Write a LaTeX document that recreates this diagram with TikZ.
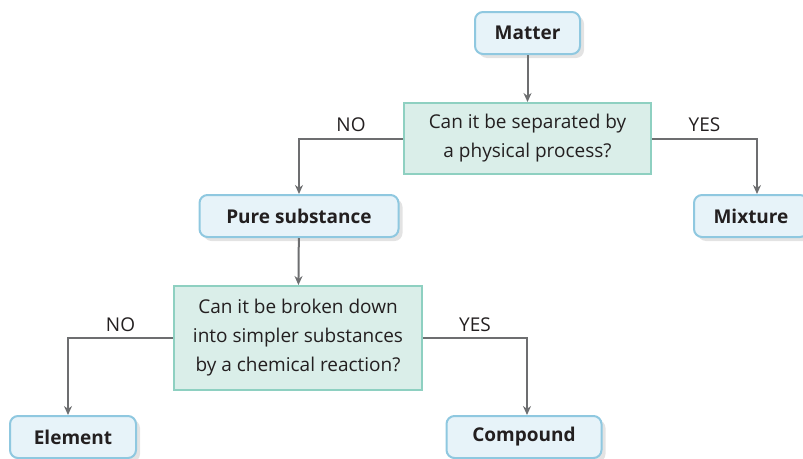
\documentclass[tikz,border=0pt]{standalone}
\usepackage{fontspec}
\setmainfont{Open Sans}
\usetikzlibrary{arrows.meta, shadows}

\definecolor{catfill}{HTML}{E7F3F9}
\definecolor{catline}{HTML}{8FC8E0}
\definecolor{qfill}{HTML}{DAEEE9}
\definecolor{qline}{HTML}{8ED0C1}
\definecolor{flowgray}{HTML}{6D6E70}
\definecolor{inkdark}{HTML}{231F20}

\begin{document}
\begin{tikzpicture}[
  x=1pt, y=-1pt,
  category/.style={
    rectangle, rounded corners=8pt, draw=catline, line width=2pt, fill=catfill,
    minimum height=42pt, inner sep=2pt, text=inkdark,
    font=\fontsize{19}{22}\selectfont\bfseries,
    drop shadow={opacity=0.22, shadow xshift=4pt, shadow yshift=-4pt}
  },
  question/.style={
    rectangle, draw=qline, line width=2pt, fill=qfill, align=center,
    inner sep=2pt, text=inkdark,
    font=\fontsize{19}{29}\selectfont
  },
  flow/.style={-{Stealth[length=9pt, width=8pt]}, line width=2pt, draw=flowgray},
  answer/.style={font=\fontsize{19}{22}\selectfont, text=inkdark, above=2pt}
]
\useasboundingbox (0,0) rectangle (803,458);

% ----------------- CATEGORIES -----------------
\node[category, minimum width=105pt] (cat_mat) at (527.5, 33) {Matter};
\node[category, minimum width=199pt] (cat_pure) at (299, 216) {Pure substance};
\node[category, minimum width=114pt] (cat_mix) at (751, 216) {Mixture};
\node[category, minimum width=126pt] (cat_ele) at (73, 437) {Element};
\node[category, minimum width=155pt] (cat_com) at (524, 437) {Compound};

% ----------------- QUESTIONS -----------------
\node[question, minimum width=247pt, minimum height=71pt] (q_sep) at (527.5, 138.5)
  {Can it be separated by\\a physical process?};
\node[question, minimum width=248pt, minimum height=104pt] (q_brk) at (298, 338)
  {Can it be broken down\\into simpler substances\\by a chemical reaction?};

% ----------------- CONNECTIONS -----------------
\draw[flow] (cat_mat) -- (q_sep);
\draw[flow] (q_sep.west) -| node[answer, pos=0.25] {NO} (cat_pure.north);
\draw[flow] (q_sep.east) -| node[answer, pos=0.25] {YES} ([xshift=6pt]cat_mix.north);
\draw[flow] (cat_pure) -- (q_brk);
\draw[flow] (q_brk.west) -| node[answer, pos=0.25] {NO} ([xshift=-5pt]cat_ele.north);
\draw[flow] (q_brk.east) -| node[answer, pos=0.25] {YES} ([xshift=3pt]cat_com.north);

\end{tikzpicture}
\end{document}
